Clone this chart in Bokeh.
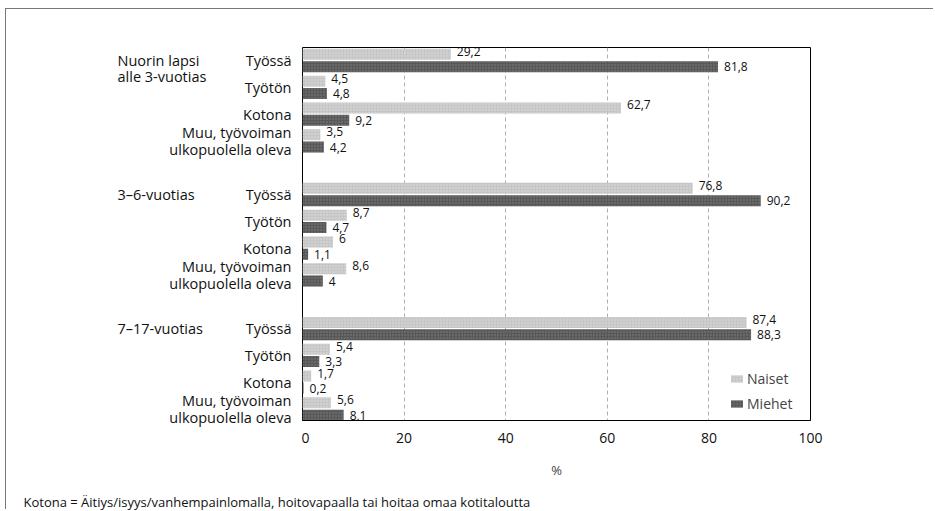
from bokeh.plotting import figure
from bokeh.layouts import row, column
from bokeh.models import (ColumnDataSource, Range1d, FixedTicker, Legend, LegendItem)
from bokeh.core.properties import value
from bokeh.embed import file_html
from bokeh.resources import INLINE

FONT = "Open Sans"

groups = ["Nuorin lapsi\nalle 3-vuotias", "3\u20136-vuotias", "7\u201317-vuotias"]
categories = ["Työssä", "Työtön", "Kotona", "Muu, työvoiman\nulkopuolella oleva"]
naiset = [29.2, 4.5, 62.7, 3.5,
          76.8, 8.7, 6.0, 8.6,
          87.4, 5.4, 1.7, 5.6]
miehet = [81.8, 4.8, 9.2, 4.2,
          90.2, 4.7, 1.1, 4.0,
          88.3, 3.3, 0.2, 8.1]
x_ticks = [0, 20, 40, 60, 80, 100]
footnote = "Kotona = Äitiys/isyys/vanhempainlomalla, hoitovapaalla tai hoitaa omaa kotitaloutta"

GAP = 5
pos = [g * GAP + c for g in range(len(groups)) for c in range(len(categories))]
cat_labels = [categories[c] for g in range(len(groups)) for c in range(len(categories))]

def fmt(v):
    return f"{v:g}".replace(".", ",")

src_n = ColumnDataSource(dict(y=[q - 0.23 for q in pos], v=naiset, t=[fmt(v) for v in naiset]))
src_m = ColumnDataSource(dict(y=[q + 0.23 for q in pos], v=miehet, t=[fmt(v) for v in miehet]))
src_cat = ColumnDataSource(dict(y=pos, t=cat_labels))
src_grp = ColumnDataSource(dict(y=[g * GAP for g in range(len(groups))], t=groups))

# page offsets of the outer box (CSS margin)
OX, OY = 6, 9
TOTAL_W = 928
H, MT, MB = 473, 38, 62
LEFT_W = 295
FRAME_W = 508
FH = H - MT - MB
Y0, Y1 = pos[-1] + 0.43, -0.485
yr = Range1d(Y0, Y1)

# ---------- main chart ----------
MAIN_W = TOTAL_W - LEFT_W
p = figure(width=MAIN_W, height=H, output_backend="svg", toolbar_location=None,
           x_range=Range1d(0, 100), y_range=yr, y_axis_location=None,
           min_border_left=1, min_border_right=MAIN_W - 1 - FRAME_W,
           min_border_top=MT, min_border_bottom=MB)
p.outline_line_color = "black"
p.outline_line_width = 1

rn = p.hbar(y="y", right="v", left=0, height=0.41, source=src_n,
            fill_color="#c6c6c6", line_color=None,
            hatch_pattern="dot", hatch_color="#e8e8e8", hatch_scale=3, hatch_alpha=0.8)
rm = p.hbar(y="y", right="v", left=0, height=0.41, source=src_m,
            fill_color="#585858", line_color=None,
            hatch_pattern="dot", hatch_color="#8c8c8c", hatch_scale=3, hatch_alpha=0.8)

p.text(x="v", y="y", text="t", source=src_n, x_offset=6, y_offset=-3,
       text_font=value(FONT), text_font_size="12px", text_baseline="middle",
       text_align="left", text_color="#111")
p.text(x="v", y="y", text="t", source=src_m, x_offset=6, y_offset=0,
       text_font=value(FONT), text_font_size="12px", text_baseline="middle",
       text_align="left", text_color="#111")

p.xaxis.ticker = FixedTicker(ticks=x_ticks)
p.xaxis.major_tick_line_color = None
p.xaxis.minor_tick_line_color = None
p.xaxis.major_label_standoff = 6
p.xaxis.major_label_text_font = FONT
p.xaxis.major_label_text_font_size = "14px"
p.xaxis.major_label_text_color = "#111"
p.xaxis.axis_label = "%"
p.xaxis.axis_label_text_font = FONT
p.xaxis.axis_label_text_font_size = "13px"
p.xaxis.axis_label_text_font_style = "normal"
p.xaxis.axis_label_standoff = 15
p.xaxis.axis_line_color = "black"

p.ygrid.grid_line_color = None
p.xgrid.ticker = FixedTicker(ticks=[20, 40, 60, 80])
p.xgrid.grid_line_color = "#b0b0b0"
p.xgrid.grid_line_dash = "4 3"
p.xgrid.grid_line_width = 1

legend = Legend(items=[LegendItem(label="Naiset", renderers=[rn]),
                       LegendItem(label="Miehet", renderers=[rm])],
                location=(427, 7), margin=0, padding=6, spacing=6,
                glyph_width=15, glyph_height=9,
                label_text_font=FONT, label_text_font_size="14px",
                label_standoff=3,
                border_line_color=None, background_fill_alpha=0)
p.add_layout(legend)

# ---------- left label panel (same scale as the main y range, extended downwards) ----------
EXT = 30  # extra pixels below the main frame so the last label is not clipped
yr_left = Range1d(Y0 + EXT * (Y0 - Y1) / FH, Y1)
lf = figure(width=LEFT_W, height=H, output_backend="svg", toolbar_location=None,
            x_range=Range1d(0, LEFT_W), y_range=yr_left,
            x_axis_location=None, y_axis_location=None,
            min_border_left=0, min_border_right=0, min_border_top=MT, min_border_bottom=MB - EXT)
lf.outline_line_color = None
lf.grid.grid_line_color = None
lf.text(x=LEFT_W - 10, y="y", text="t", source=src_cat,
        text_font=value(FONT), text_font_size="14.5px", text_baseline="middle",
        text_line_height=0.86,
        text_align="right", text_color="#111")
lf.text(x=117 - OX, y="y", text="t", source=src_grp, y_offset=-10,
        text_font=value(FONT), text_font_size="14.5px", text_baseline="top",
        text_line_height=0.86,
        text_align="left", text_color="#111")

# ---------- footnote strip ----------
ff = figure(width=TOTAL_W, height=28, output_backend="svg", toolbar_location=None,
            x_range=Range1d(0, TOTAL_W), y_range=Range1d(28, 0),
            x_axis_location=None, y_axis_location=None,
            min_border_left=0, min_border_right=0, min_border_top=0, min_border_bottom=0)
ff.outline_line_color = None
ff.grid.grid_line_color = None
ff.text(x=[23 - OX], y=[19], text=[footnote], text_font=value(FONT), text_font_size="13px",
        text_baseline="middle", text_align="left", text_color="#111")

layout = column(row(lf, column(p), spacing=0), ff, spacing=0,
                styles={"margin-left": f"{OX}px", "margin-top": f"{OY}px",
                        "box-shadow": "-1px -1px 0 0 #777"})
open("out.html", "w").write(file_html(layout, INLINE))
